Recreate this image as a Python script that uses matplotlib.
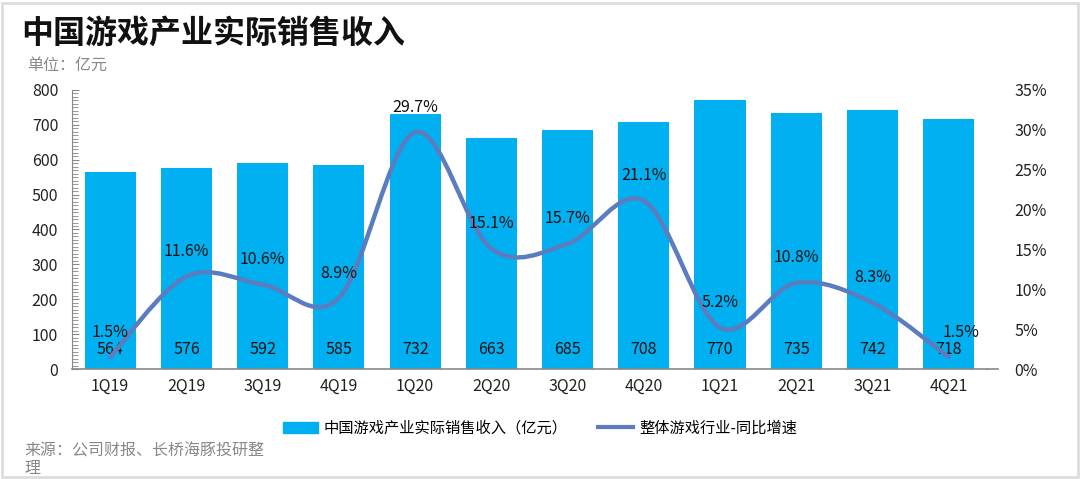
import matplotlib
matplotlib.use('Agg')
import matplotlib.pyplot as plt
from matplotlib.path import Path
from matplotlib.patches import PathPatch, Rectangle, Patch
from matplotlib.lines import Line2D
from matplotlib.ticker import MultipleLocator, FuncFormatter

plt.rcParams['font.family'] = ['Noto Sans CJK SC', 'DejaVu Sans']

quarters = ['1Q19', '2Q19', '3Q19', '4Q19', '1Q20', '2Q20', '3Q20', '4Q20',
            '1Q21', '2Q21', '3Q21', '4Q21']
revenue = [564, 576, 592, 585, 732, 663, 685, 708, 770, 735, 742, 718]
growth = [1.5, 11.6, 10.6, 8.9, 29.7, 15.1, 15.7, 21.1, 5.2, 10.8, 8.3, 1.5]

bar_color = '#00B0F0'
line_color = '#5B7CBE'


def smooth_path(xs, ys):
    # catmull-rom style bezier through the points
    verts = [(xs[0], ys[0])]
    codes = [Path.MOVETO]
    n = len(xs)
    for i in range(n - 1):
        x0, y0 = (xs[i - 1], ys[i - 1]) if i > 0 else (xs[i], ys[i])
        x1, y1 = xs[i], ys[i]
        x2, y2 = xs[i + 1], ys[i + 1]
        x3, y3 = (xs[i + 2], ys[i + 2]) if i + 2 < n else (x2, y2)
        c1 = (x1 + (x2 - x0) / 6, y1 + (y2 - y0) / 6)
        c2 = (x2 - (x3 - x1) / 6, y2 - (y3 - y1) / 6)
        verts += [c1, c2, (x2, y2)]
        codes += [Path.CURVE4] * 3
    return Path(verts, codes)


def run():
    fig = plt.figure(figsize=(10.8, 4.79), dpi=100)
    ax = fig.add_axes([0.0667, 0.2296, 0.847, 0.5826])
    ax2 = ax.twinx()
    ax.set_zorder(1)
    ax2.set_zorder(2)
    ax.patch.set_visible(False)

    fs = 11.5
    x = list(range(len(quarters)))
    ax.bar(x, revenue, width=0.67, color=bar_color, zorder=2)
    for xi, v in zip(x, revenue):
        ax.text(xi, 55, str(v), ha='center', va='center', fontsize=fs, color='#111111',
                zorder=5)

    ax.set_xlim(-0.5, 11.5)
    ax.set_ylim(0, 800)
    ax.yaxis.set_major_locator(MultipleLocator(100))
    ax.yaxis.set_minor_locator(MultipleLocator(10))
    ax.tick_params(axis='y', which='major', direction='in', length=5, color='#888888',
                   labelsize=fs, labelcolor='#222222', pad=10)
    ax.tick_params(axis='y', which='minor', direction='in', length=4, color='#999999',
                   width=0.8)
    ax.set_xticks(x)
    ax.set_xticklabels(quarters)
    ax.tick_params(axis='x', length=0, labelsize=fs, labelcolor='#222222', pad=6)
    for s in ['top', 'right']:
        ax.spines[s].set_visible(False)
    ax.spines['left'].set_color('#888888')
    ax.spines['bottom'].set_color('#888888')
    ax.spines['bottom'].set_linewidth(1.2)

    ax2.set_ylim(0, 35)
    ax2.yaxis.set_major_locator(MultipleLocator(5))
    ax2.yaxis.set_major_formatter(FuncFormatter(lambda v, p: '%d%%' % v))
    ax2.tick_params(axis='y', length=0, labelsize=fs, labelcolor='#222222', pad=20)
    for s in ['top', 'right', 'left', 'bottom']:
        ax2.spines[s].set_visible(False)
    ax2.plot([11.5, 11.65], [0, 0], color='#888888', lw=1.2, clip_on=False)

    ax2.add_patch(PathPatch(smooth_path(x, growth), fill=False, edgecolor=line_color,
                            lw=3.2, capstyle='round', zorder=3))
    for xi, g in zip(x, growth):
        dx = 9 if xi == len(x) - 1 else 0
        ax2.annotate('%.1f%%' % g, (xi, g), xytext=(dx, 18), textcoords='offset points',
                     ha='center', va='center', fontsize=fs, color='#111111', zorder=6)

    # title and notes
    fig.text(0.02, 0.93, '中国游戏产业实际销售收入', fontsize=23, fontweight='bold',
             va='center', ha='left', color='#111111')
    fig.text(0.025, 0.864, '单位：亿元', fontsize=11.5, color='#888888', va='center')
    fig.text(0.023, 0.04, '来源：公司财报、长桥海豚投研整\n理', fontsize=11.5, color='#888888',
             va='center', linespacing=1.05)

    handles = [Patch(color=bar_color), Line2D([], [], color=line_color, lw=3)]
    fig.legend(handles, ['中国游戏产业实际销售收入（亿元）', '整体游戏行业-同比增速'],
               loc='center', bbox_to_anchor=(0.5, 0.106), ncol=2, frameon=False,
               fontsize=11, handlelength=2.3, handleheight=0.8, columnspacing=2.0,
               handletextpad=0.4)

    fig.patches.append(Rectangle((0.002, 0.004), 0.996, 0.99, transform=fig.transFigure,
                                 fill=False, edgecolor='#dddddd', lw=2))
    plt.savefig('out.png', dpi=100)


if __name__ == '__main__':
    run()
